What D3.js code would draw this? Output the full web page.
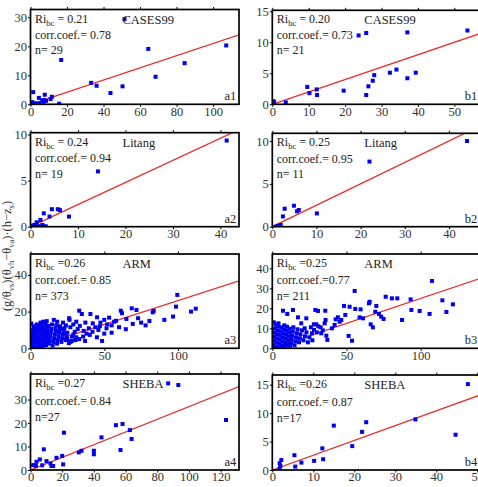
<html>
<head>
<style>
body { margin: 0; background: #fff; }
text { font-family: "Liberation Serif", "DejaVu Serif", serif; }
</style>
</head>
<body>
<div id="chart"></div>
<script src="https://d3js.org/d3.v7.min.js"></script>
<script>
var width = 478, height = 487;

// ---- data ----
var panelIds = ['a1', 'b1', 'a2', 'b2', 'a3', 'b3', 'a4', 'b4'];
var sites = ['CASES99', 'CASES99', 'Litang', 'Litang', 'ARM', 'ARM', 'SHEBA', 'SHEBA'];
var riValues = [0.21, 0.20, 0.24, 0.25, 0.26, 0.25, 0.27, 0.26];
var riLabels = [' = 0.21', ' = 0.20', ' = 0.24', ' = 0.25', ' =0.26', ' =0.25', ' =0.27', ' =0.26'];
var corrLabels = ['corr.coef.= 0.78', 'corr.coef.= 0.73', 'corr.coef.= 0.94', 'corr.coef.= 0.95',
                  'corr.coef.= 0.85', 'corr.coef.=0.77', 'corr.coef.= 0.84', 'corr.coef.= 0.87'];
var nLabels = ['n= 29', 'n= 21', 'n= 19', 'n= 11', 'n= 373', 'n= 211', 'n=27', 'n=17'];
var xMax = [114.2, 59.8, 43.9, 49.3, 141.3, 146.7, 131.6, 53.1];
var yMax = [32.7, 15.16, 10.2, 10.9, 51.4, 47.2, 40.9, 16.7];
var xTicks = [[0, 20, 40, 60, 80, 100], [0, 10, 20, 30, 40, 50], [0, 10, 20, 30, 40], [0, 10, 20, 30, 40],
              [0, 50, 100], [0, 50, 100], [0, 20, 40, 60, 80, 100, 120], [0, 10, 20, 30, 40, 50]];
var yTicks = [[0, 10, 20, 30], [0, 5, 10, 15], [0, 5, 10], [0, 5, 10],
              [0, 20, 40], [0, 10, 20, 30, 40], [0, 10, 20, 30], [0, 5, 10, 15]];

var ptsA1 = [[51.5,29.4],[16.8,15.3],[64.5,19.1],[107.2,20.3],[84.4,14.2],[68.5,9.5],[33.2,7.4],[36.2,6.4],
  [43.8,3.9],[50.4,6.2],[1.5,4.2],[4.6,2.2],[7.8,3.3],[7.3,1.5],[7.3,0.9],[11,1.8],[11.7,2.6],[15.7,0.2],
  [0.3,0],[0.2,0.3],[0.5,0.1],[1,0.5],[1.8,0.2],[2.5,0.4],[3,0.1],[0.8,0.8],[5,0.3],[8.5,1.2],[6.5,1.3]];
var ptsB1 = [[23.7,11.1],[25.8,11.5],[37.1,11.6],[53.6,11.9],[32.3,5.1],[34.1,5.6],[39.4,5.1],[37.1,4.2],
  [28,4.7],[27.6,3.8],[26.4,2.9],[25.8,1.5],[19.6,2.2],[9.6,2.8],[10.2,1.8],[12.2,2.4],[12.3,1.5],
  [3.7,0.3],[0.2,0.5],[0.3,0.2],[0.5,0.4]];
var ptsA2 = [[41.3,9.35],[14.2,6.0],[4.5,1.9],[5.75,1.9],[6.2,1.8],[2.8,1.45],[8.1,1.1],[4,1.1],[2.1,0.73],
  [1.3,0.48],[2.5,0.2],[3.2,0.05],[1.7,0.05],[0.8,0.2],[0.4,0.1],[0.2,0],[1.9,0],[1.0,0.1],[0.5,0]];
var ptsB2 = [[44.1,10.0],[22.0,7.6],[4.9,2.45],[2.8,2.1],[5.6,1.8],[6.0,1.95],[10.1,1.55],[2.4,1.2],
  [1.9,0.2],[1.2,0.1],[0.8,0]];
var ptsA3 = [[99.5,29.1],[98.6,22.7],[112,21.6],[108.8,20],[83.5,20.4],[82.8,19.6],[80.6,14.9],[90.7,15.5],
  [96.6,17.3],[68.6,21.8],[71.8,20.9],[72.9,16.4],[69.3,13.3],[61.2,20.5],[62,19.1],[56.7,14.5],[64.6,10.4],
  [60,11.5],[48.5,4.0],[53.3,16.7],[50,15.5],[47.4,14],[51.5,10.9],[40.6,18.7],[45.1,16.9],[34.8,18.7],
  [33,20.5],[26.2,16.4],[26.4,15.5],[33.4,12.2],[37.2,14],[39.5,10.9],[42.2,13.6],[44,11.5],[40.2,7.3],
  [35.7,6.4],[30.5,4.5],[28.2,6.4],[23.7,8.2],[21.4,10.4],[15.8,15.5],[18.1,14.5],[8.6,14.5],[6.8,13.6],
  [12.4,12.2],[47,12],[52,13],[55,12.5],[58,15],[65,16],[75,14],[78,12.5],[30,9],[32,10.5],[36,9.5],[38,8],
  [42,9],[46,10],[27,11.5],[29,13],[31,14.5],[24,12.5],[22,14],[20,12],[19,9],[17,11],[25,5],[27,3.5],
  [33,5],[37,4],[45,6],[55,8.5],[50,8],
  [0.3,0.5],[0.6,2],[0.9,4],[1.2,6],[1.5,8],[1.8,10],[2.1,12],[0.5,13.5],[2.4,1],[2.7,3],[3,5],[3.3,7],
  [3.6,9],[3.9,11],[4.2,13],[4.5,0.5],[4.8,2.5],[5.1,4.5],[5.4,6.5],[5.7,8.5],[6,10.5],[6.3,12.5],[6.6,1.5],
  [6.9,3.5],[7.2,5.5],[7.5,7.5],[7.8,9.5],[8.1,11.5],[8.4,0.8],[8.7,2.8],[9,4.8],[9.3,6.8],[9.6,8.8],
  [9.9,10.8],[10.2,12.8],[10.5,1.8],[10.8,3.8],[11.1,5.8],[11.4,7.8],[11.7,9.8],[12,11.8],[12.6,2.5],
  [13,4.5],[13.4,6.5],[13.8,8.5],[14.2,10.5],[14.6,13],[15,1.5],[15.5,3.5],[16,5.5],[16.5,7.5],[17,9.5],
  [17.5,12.5],[18,2.5],[18.5,4.5],[19,6.5],[19.5,8.5],[20,10.5],[21,3.5],[21.5,5.5],[22,7.5],[22.5,9.5],
  [23,11],[24,4.5],[24.5,6.5],[25,8.5],[26,2.8],[28,4],[29,7.5],[31,6],[0.2,0.1],[1,0.2],[2,0.4],[3,0.1],
  [6,0.3],[1.5,5],[2.5,7.5],[3.5,3.8],[4,9.8],[5,11.8],[7,14],[9,13.8],[11,14.8]];
var ptsB3 = [[107.6,33.7],[55.5,28.7],[114.6,24],[117.3,18.2],[121.7,22],[93.2,24.5],[93.7,19.2],[99.3,18.7],
  [106,17.2],[87.4,14.2],[76.4,25.8],[80.6,25],[84.2,25],[65.1,22.5],[65.6,23.3],[70.1,21.2],[69.4,18.3],
  [73.4,15.8],[75,14.7],[71.9,17.2],[66.3,12],[67.8,10.5],[61.1,15],[58.8,15.5],[59.5,19.5],[55.9,19.7],
  [52.1,20.8],[48.3,21.2],[49.2,16.7],[51.4,6.2],[53.7,3.8],[44.2,15.5],[46.5,14.2],[42,11.7],[40.2,10],
  [42.7,14.5],[45.4,13.3],[35.7,18.8],[35.9,14.2],[37.1,4.2],[36.4,6.3],[35.3,12.5],[30.8,18.7],[29,19.2],
  [29.6,12],[32.6,10.5],[26.7,7.5],[28.1,9.2],[22.9,15],[19.5,12.5],[21.8,10],[13.9,19.2],[17.3,15.5],
  [7.2,18.8],[10.1,17.2],[12.8,5.8],
  [0.3,0.3],[0.6,2],[0.9,4],[1.2,6],[1.5,8],[1.8,10],[2.1,12],[1,13],[2.4,1],[2.7,3],[3,5],[3.3,7],[3.6,9],
  [3.9,11],[4.2,12.5],[4.5,0.5],[4.8,2.5],[5.1,4.5],[5.4,6.5],[5.7,8.5],[6,10.5],[6.6,1.5],[6.9,3.5],
  [7.2,5.5],[7.5,7.5],[7.8,9.5],[8.1,11.5],[8.7,2.8],[9,4.8],[9.3,6.8],[9.6,8.8],[9.9,10.8],[10.5,1.8],
  [10.8,3.8],[11.1,5.8],[11.4,7.8],[11.7,9.8],[12.6,2.5],[13,4.5],[13.4,6.5],[13.8,8.5],[14.2,10.5],
  [15,1.5],[15.5,3.5],[16,5.5],[16.5,7.5],[17,9.5],[18,3],[18.5,5],[19,7],[20,9],[21,4],[22,6],[23,8],
  [24,3],[25,5.5],[26,10.5],[27,4],[28,12],[30,8],[31,11],[33,7.5],[34,9],[0.2,0.1],[1.5,0.3],[3,0.2],
  [7,0.5],[9,1.2],[12,0.8]];
var ptsA4 = [[86.9,36.9],[93.3,36.2],[123.4,21.3],[53.9,19.1],[58.1,19.6],[62.7,17],[63.8,13.2],[56.8,8.5],
  [44.8,13.9],[21.1,15.9],[40,8.2],[40,6.7],[32.2,8.2],[30.5,7.5],[20,6],[20.6,2.4],[8.4,8.8],[16.4,5.2],
  [10.1,3.8],[5.9,4.5],[3.8,3.5],[1.7,2.1],[3.4,1.7],[7.4,2],[12.6,2.8],[13.3,1.7],[14.3,1.7]];
var ptsB4 = [[47.7,15.1],[34.9,8.9],[44.7,6.2],[22.9,8.4],[21.9,6.7],[19.5,4.2],[15,7.8],[12.2,3.8],[12.4,1.9],
  [10.2,1.6],[7.1,1.3],[5.4,2.6],[5.6,0.6],[2.2,1.75],[1.8,1.2],[1.95,0.7],[1.8,0.2]];
var allPoints = [ptsA1, ptsB1, ptsA2, ptsB2, ptsA3, ptsB3, ptsA4, ptsB4];

// ---- layout (pixel frames, left/top/right/bottom) ----
var colLeft = [30.5, 272.3];
var colRight = [239, 490];
var rowTop = [[9.5, 10.3], [132.7, 133.3], [254, 254], [374, 375]];
var rowBottom = [104.3, 226.7, 348.3, 470];
var rowSpacing = [15, 15.5, 16, 16.5];
var idOffset = [194, 192.5];

var svg = d3.select('#chart').append('svg')
    .attr('width', width)
    .attr('height', height);

panelIds.forEach(function(id, i) {
    var col = i % 2, row = Math.floor(i / 2);
    var left = colLeft[col], right = colRight[col];
    var top = rowTop[row][col], bottom = rowBottom[row];

    var x = d3.scaleLinear().domain([0, xMax[i]]).range([left, right]);
    var y = d3.scaleLinear().domain([0, yMax[i]]).range([bottom, top]);

    var g = svg.append('g').attr('class', 'panel-' + id);

    g.append('clipPath').attr('id', 'clip-' + id)
        .append('rect')
        .attr('x', left).attr('y', top)
        .attr('width', right - left).attr('height', bottom - top);

    var plot = g.append('g').attr('clip-path', 'url(#clip-' + id + ')');

    // regression line y = Ri * x
    plot.append('line')
        .attr('x1', x(0)).attr('y1', y(0))
        .attr('x2', x(xMax[i])).attr('y2', y(riValues[i] * xMax[i]))
        .attr('stroke', '#e8302c')
        .attr('stroke-width', 1.3);

    // points
    var s = 4;
    plot.selectAll('rect.pt')
        .data(allPoints[i])
        .enter()
        .append('rect')
        .attr('class', 'pt')
        .attr('x', function(d) { return x(d[0]) - s / 2; })
        .attr('y', function(d) { return y(d[1]) - s / 2; })
        .attr('width', s).attr('height', s)
        .attr('fill', '#0000ee');

    // axes
    var xAxis = g.append('g')
        .attr('transform', 'translate(0,' + bottom + ')')
        .call(d3.axisBottom(x).tickValues(xTicks[i]).tickSize(2.5).tickSizeOuter(0).tickPadding(0));
    var xTop = g.append('g')
        .attr('transform', 'translate(0,' + top + ')')
        .call(d3.axisTop(x).tickValues(xTicks[i]).tickSize(2.5).tickSizeOuter(0).tickFormat(''));
    var yAxis = g.append('g')
        .attr('transform', 'translate(' + left + ',0)')
        .call(d3.axisLeft(y).tickValues(yTicks[i]).tickSize(2.5).tickSizeOuter(0).tickPadding(1));

    [xAxis, xTop, yAxis].forEach(function(a) {
        a.select('.domain').remove();
        a.selectAll('.tick line').attr('stroke', '#000').attr('stroke-width', 1);
        a.selectAll('.tick text')
            .attr('fill', '#333')
            .style('font-family', '"Liberation Serif", serif')
            .style('font-size', '12.5px');
    });

    // frame
    g.append('rect')
        .attr('x', left).attr('y', top)
        .attr('width', right - left).attr('height', bottom - top)
        .attr('fill', 'none')
        .attr('stroke', '#000')
        .attr('stroke-width', 1.7);

    // annotations
    var tx = left + 4.5, ty = top + 13, sp = rowSpacing[row];
    var ri = g.append('text')
        .attr('x', tx).attr('y', ty)
        .attr('fill', '#222')
        .style('font-size', '12px');
    ri.append('tspan').text('Ri');
    ri.append('tspan').attr('dy', 3).style('font-size', '8.5px').text('bc');
    ri.append('tspan').attr('dy', -3).text(riLabels[i]);

    g.append('text')
        .attr('x', tx).attr('y', ty + 1 + sp)
        .attr('fill', '#222')
        .style('font-size', '12px')
        .text(corrLabels[i]);

    g.append('text')
        .attr('x', tx).attr('y', ty + 1 + 2 * sp)
        .attr('fill', '#222')
        .style('font-size', '12px')
        .text(nLabels[i]);

    g.append('text')
        .attr('x', left + 92).attr('y', ty + 1)
        .attr('fill', '#222')
        .style('font-size', '12.5px')
        .text(sites[i]);

    g.append('text')
        .attr('x', left + idOffset[col]).attr('y', bottom - 4)
        .attr('fill', '#222')
        .style('font-size', '12.5px')
        .text(id);
});

// shared y-axis label
var yl = svg.append('text')
    .attr('transform', 'translate(10.5,256) rotate(-90)')
    .attr('text-anchor', 'middle')
    .attr('fill', '#333')
    .style('font-size', '12.5px');
yl.append('tspan').text('(g/θ');
yl.append('tspan').attr('dy', 3).style('font-size', '8.5px').text('vs');
yl.append('tspan').attr('dy', -3).text(')(θ');
yl.append('tspan').attr('dy', 3).style('font-size', '8.5px').text('vh');
yl.append('tspan').attr('dy', -3).text('−θ');
yl.append('tspan').attr('dy', 3).style('font-size', '8.5px').text('va');
yl.append('tspan').attr('dy', -3).text(')·(h−z');
yl.append('tspan').attr('dy', 3).style('font-size', '8.5px').text('s');
yl.append('tspan').attr('dy', -3).text(')');
</script>
</body>
</html>
